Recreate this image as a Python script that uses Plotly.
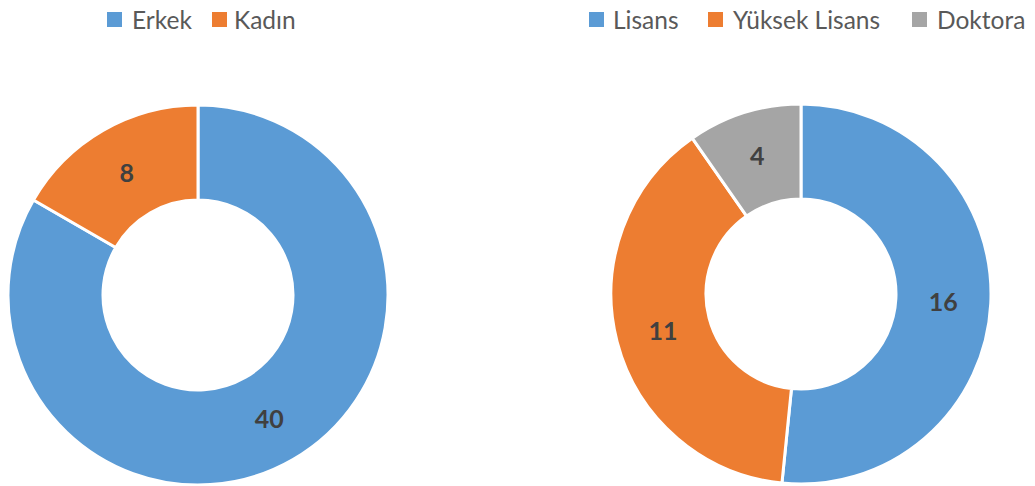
import plotly.graph_objects as go

gender_labels = ["Erkek", "Kadın"]
gender_values = [40, 8]
edu_labels = ["Lisans", "Yüksek Lisans", "Doktora"]
edu_values = [16, 11, 4]
# slice shares (%) read from the arc angles of the reference (its arcs do not follow the labels exactly)
edu_shares = [51.6, 38.7, 9.7]

blue = "#5B9BD5"
orange = "#ED7D31"
gray = "#A5A5A5"

W, H = 1035, 486

def dom(cx, cy, r):
    return dict(x=[(cx - r) / W, (cx + r) / W],
                y=[(H - cy - r) / H, (H - cy + r) / H])

label_font = dict(family="Lato", size=25, color="#404040", weight="bold")

fig = go.Figure()
fig.add_trace(go.Pie(
    labels=gender_labels, values=gender_values, hole=0.5, sort=False,
    direction="clockwise", rotation=0,
    marker=dict(colors=[blue, orange], line=dict(color="white", width=3)),
    texttemplate="%{value}", textposition="inside", insidetextorientation="horizontal",
    textfont=label_font, domain=dom(198, 295, 190), showlegend=False,
    hovertemplate="%{label}: %{value}<extra></extra>",
))
fig.add_trace(go.Pie(
    labels=edu_labels, values=edu_shares, text=[str(v) for v in edu_values],
    hole=0.5, sort=False, direction="clockwise", rotation=0,
    marker=dict(colors=[blue, orange, gray], line=dict(color="white", width=3)),
    texttemplate="%{text}", textposition="inside", insidetextorientation="horizontal",
    textfont=label_font, domain=dom(801, 294, 190), showlegend=False,
    hovertemplate="%{label}: %{text}<extra></extra>",
))

# legends drawn as swatches + text
legend_items = [
    (gender_labels[0], blue, 107, 130),
    (gender_labels[1], orange, 212, 232),
    (edu_labels[0], blue, 589, 611),
    (edu_labels[1], orange, 708, 731),
    (edu_labels[2], gray, 912, 935),
]
ly = 19.5
for name, col, sx, tx in legend_items:
    fig.add_shape(type="rect", xref="paper", yref="paper",
                  x0=sx / W, x1=(sx + 15) / W,
                  y0=1 - (ly + 7.5) / H, y1=1 - (ly - 7.5) / H,
                  fillcolor=col, line=dict(width=0))
    fig.add_annotation(text=name, xref="paper", yref="paper",
                       x=tx / W, y=1 - ly / H, xanchor="left", yanchor="middle",
                       showarrow=False,
                       font=dict(family="Lato", size=24.5, color="#595959"))

fig.update_layout(
    width=W, height=H,
    margin=dict(l=0, r=0, t=0, b=0),
    paper_bgcolor="white", plot_bgcolor="white",
    showlegend=False,
)
fig.write_html("out.html")
